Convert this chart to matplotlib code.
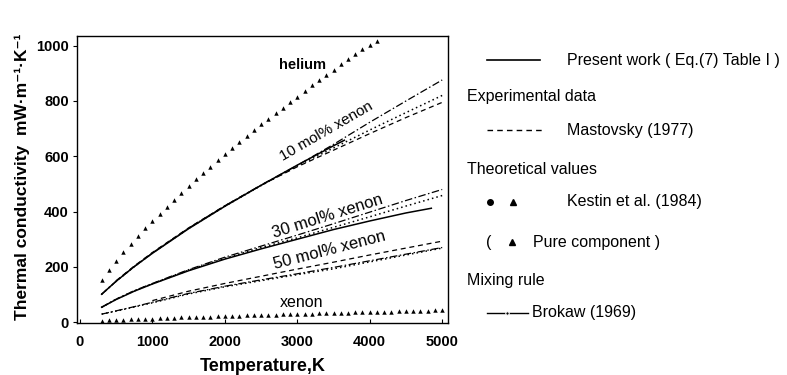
import matplotlib
matplotlib.use("Agg")
import matplotlib.pyplot as plt
from matplotlib.lines import Line2D

plt.rcParams['font.family'] = ['Liberation Sans', 'DejaVu Sans']

# temperatures (K)
T_mix = [300, 500, 750, 1000, 1500, 2000, 2500, 3000, 3500, 4000, 4500, 5000]
T_10_present = [300, 500, 750, 1000, 1500, 2000, 2500, 3000, 3500, 3650]
T_30_present = [300, 500, 750, 1000, 1500, 2000, 2500, 3000, 3500, 4000, 4500, 4850]
T_10_mast = [500, 750, 1000, 1500, 2000, 2500, 3000, 3500, 4000, 4500, 5000]
T_50_mast = [1000, 1500, 2000, 2500, 3000, 3500, 4000, 4500, 5000]

# pure components, Kestin et al. (triangles every 100 K)
T_helium = list(range(300, 4200, 100))
helium = [152, 188, 221, 252, 282, 311, 339, 366, 392, 418, 443, 468, 492, 516,
          539, 562, 585, 607, 629, 651, 672, 694, 715, 735, 756, 776, 796, 816,
          836, 856, 875, 894, 913, 932, 951, 970, 988, 1004, 1018]
T_xenon = list(range(300, 5100, 100))
xenon = [5.5, 6.8, 8.0, 9.1, 10.2, 11.3, 12.3, 13.2, 14.2, 15.1, 16.0, 16.9,
         17.8, 18.7, 19.5, 20.3, 21.2, 22.0, 22.8, 23.6, 24.3, 25.1, 25.9, 26.6,
         27.4, 28.1, 28.8, 29.5, 30.3, 31.0, 31.7, 32.4, 33.1, 33.7, 34.4, 35.1,
         35.8, 36.4, 37.1, 37.8, 38.4, 39.1, 39.7, 40.4, 41.0, 41.6, 42.3, 42.9]

# present work
present_10 = [101, 148, 201, 249, 338, 419, 495, 568, 638, 658]
present_30 = [54, 82, 112, 138, 186, 228, 265, 300, 335, 366, 395, 412]

# Mastovsky (1977)
mast_10 = [150, 203, 252, 341, 421, 495, 562, 622, 682, 740, 795]
mast_50 = [78, 112, 140, 166, 192, 217, 243, 268, 293]

# Kestin et al. (1984) mixtures
kestin_10 = [101, 148, 201, 250, 339, 419, 494, 565, 630, 695, 758, 820]
kestin_30 = [54, 83, 113, 139, 188, 231, 270, 305, 343, 381, 420, 458]
kestin_50 = [29, 40, 55, 70, 102, 128, 150, 172, 193, 218, 243, 268]

# Brokaw (1969) mixing rule
brokaw_10 = [101, 148, 201, 250, 340, 421, 496, 567, 643, 723, 800, 876]
brokaw_30 = [54, 83, 114, 140, 190, 235, 275, 315, 356, 398, 440, 480]
brokaw_50 = [29, 41, 56, 72, 104, 130, 153, 175, 198, 222, 246, 270]

W, H = 787, 375
fig = plt.figure(figsize=(W / 100, H / 100), dpi=100)
ax = fig.add_axes([77 / W, 1 - 323 / H, 371 / W, 287 / H])

solid = dict(color='black', lw=1.1, linestyle='-')
dashed = dict(color='black', lw=0.9, linestyle=(0, (4, 3)))
dotted = dict(color='black', lw=1.1, linestyle=(0, (1, 2)))
dashdot = dict(color='black', lw=0.9, linestyle=(0, (6, 2, 1.2, 2)))

ax.plot(T_helium, helium, '^', color='black', ms=3.2, mew=0)
ax.plot(T_xenon, xenon, '^', color='black', ms=3.2, mew=0)

ax.plot(T_10_present, present_10, **solid)
ax.plot(T_30_present, present_30, **solid)
ax.plot(T_10_mast, mast_10, **dashed)
ax.plot(T_50_mast, mast_50, **dashed)
for k in (kestin_10, kestin_30, kestin_50):
    ax.plot(T_mix, k, **dotted)
for b in (brokaw_10, brokaw_30, brokaw_50):
    ax.plot(T_mix, b, **dashdot)

ax.text(3076, 929, 'helium', ha='center', va='center', fontsize=10.5, fontweight='bold')
ax.text(3400, 690, '10 mol% xenon', ha='center', va='center', fontsize=11, rotation=30)
ax.text(3420, 383, '30 mol% xenon', ha='center', va='center', fontsize=12, rotation=17.5)
ax.text(3450, 260, '50 mol% xenon', ha='center', va='center', fontsize=12, rotation=14.5)
ax.text(3060, 72, 'xenon', ha='center', va='center', fontsize=11.5)

ax.set_xlim(-40, 5080)
ax.set_ylim(-3, 1035)
ax.set_xticks([0, 1000, 2000, 3000, 4000, 5000])
ax.set_yticks([0, 200, 400, 600, 800, 1000])
ax.tick_params(axis='y', direction='out', length=3, width=0.8, labelsize=10.5, pad=3)
ax.tick_params(axis='x', direction='in', length=3, width=0.8, labelsize=10.5, pad=9)
for lab in ax.get_xticklabels() + ax.get_yticklabels():
    lab.set_fontweight('bold')
for s in ax.spines.values():
    s.set_linewidth(1.0)

ax.set_xlabel('Temperature,K', fontsize=13, fontweight='bold', labelpad=6)
ax.set_ylabel('Thermal conductivity  mW·m⁻¹·K⁻¹', fontsize=12.5, fontweight='bold')
ax.yaxis.set_label_coords(-0.128, 0.51)


# legend drawn as text on the right
def fx(x):
    return x / W


def fy(y):
    return 1 - y / H


def seg(x0, x1, y, **kw):
    fig.add_artist(Line2D([fx(x0), fx(x1)], [fy(y), fy(y)], transform=fig.transFigure, **kw))


fs = 11.5
seg(487, 540, 60, color='black', lw=1.2)
fig.text(fx(567), fy(60), 'Present work ( Eq.(7) Table I )', fontsize=fs, va='center')
fig.text(fx(467), fy(97), 'Experimental data', fontsize=fs, va='center')
seg(487, 542, 130, color='black', lw=1.0, linestyle=(0, (4, 3)))
fig.text(fx(567), fy(130), 'Mastovsky (1977)', fontsize=fs, va='center')
fig.text(fx(467), fy(170), 'Theoretical values', fontsize=fs, va='center')
fig.add_artist(Line2D([fx(490)], [fy(202)], marker='o', ms=4, color='black', transform=fig.transFigure))
fig.add_artist(Line2D([fx(513)], [fy(202)], marker='^', ms=4, color='black', transform=fig.transFigure))
fig.text(fx(567), fy(202), 'Kestin et al. (1984)', fontsize=fs, va='center')
fig.text(fx(486), fy(242), '(', fontsize=fs, va='center')
fig.add_artist(Line2D([fx(512)], [fy(242)], marker='^', ms=4, color='black', transform=fig.transFigure))
fig.text(fx(533), fy(242), 'Pure component )', fontsize=fs, va='center')
fig.text(fx(467), fy(280), 'Mixing rule', fontsize=fs, va='center')
seg(487, 528, 313, color='black', lw=1.0)
fig.add_artist(Line2D([fx(507)], [fy(313)], marker='o', ms=2.5, color='black', mec='white', mew=0.8,
                      transform=fig.transFigure))
fig.text(fx(532), fy(313), 'Brokaw (1969)', fontsize=fs, va='center')

fig.savefig('out.png', dpi=100)
